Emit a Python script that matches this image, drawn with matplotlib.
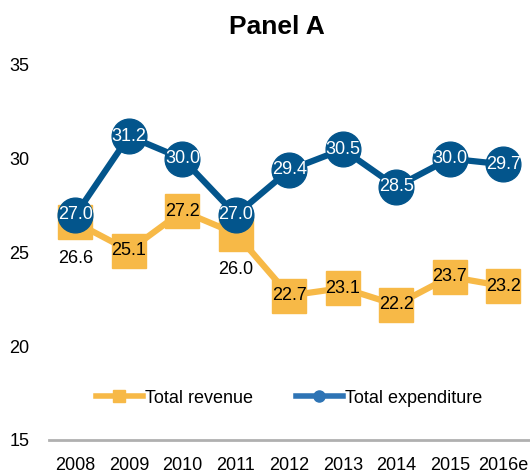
import matplotlib
matplotlib.use("Agg")
import matplotlib.pyplot as plt
from matplotlib import font_manager

# condensed font if present, else Liberation Sans
names = {f.name for f in font_manager.fontManager.ttflist}
narrow = "Liberation Sans Narrow" if "Liberation Sans Narrow" in names else "Liberation Sans"
plt.rcParams["font.family"] = [narrow, "DejaVu Sans"]

years = ["2008", "2009", "2010", "2011", "2012", "2013", "2014", "2015", "2016e"]
revenue = [26.6, 25.1, 27.2, 26.0, 22.7, 23.1, 22.2, 23.7, 23.2]
expenditure = [27.0, 31.2, 30.0, 27.0, 29.4, 30.5, 28.5, 30.0, 29.7]
yticks = [15, 20, 25, 30, 35]

orange = "#F7B947"
blue = "#03558C"

fig = plt.figure(figsize=(5.30, 4.74), dpi=100)
ax = fig.add_axes([0.092, 0.072, 0.908, 0.791])

x = list(range(len(years)))
ax.plot(x, revenue, color=orange, lw=4.5, marker="s", ms=24, mec=orange, mfc=orange,
        solid_joinstyle="round", zorder=2)
ax.plot(x, expenditure, color=blue, lw=4.5, marker="o", ms=25, mec=blue, mfc=blue,
        zorder=3)

for i, v in enumerate(revenue):
    yy = v - 1.9 if i in (0, 3) else v
    ax.text(i, yy, f"{v:.1f}", ha="center", va="center", fontsize=13,
            color="black", zorder=4)
for i, v in enumerate(expenditure):
    ax.text(i, v, f"{v:.1f}", ha="center", va="center", fontsize=13,
            color="white", zorder=5)

ax.set_xlim(-0.5, len(years) - 0.5)
ax.set_ylim(15, 35)
ax.set_yticks(yticks)
ax.set_xticks(x)
ax.set_xticklabels(years)
ax.tick_params(length=0, labelsize=13)
ax.tick_params(axis="y", pad=14)
ax.tick_params(axis="x", pad=12)
for s in ["top", "right", "left"]:
    ax.spines[s].set_visible(False)
ax.spines["bottom"].set_color("#B0B0B0")
ax.spines["bottom"].set_linewidth(2)

h1, = ax.plot([], [], color="#F7B947", lw=4, marker="s", ms=8)
h2, = ax.plot([], [], color="#2E74B5", lw=4, marker="o", ms=8)
fig.legend([h1, h2], ["Total revenue", "Total expenditure"], loc="center",
           bbox_to_anchor=(0.545, 0.16), ncol=2, frameon=False, fontsize=13,
           handlelength=2.6, handletextpad=0.1, columnspacing=2.4)

fig.text(0.522, 0.943, "Panel A", ha="center", va="center", fontsize=19,
         fontweight="bold")

fig.savefig("out.png", dpi=100)
